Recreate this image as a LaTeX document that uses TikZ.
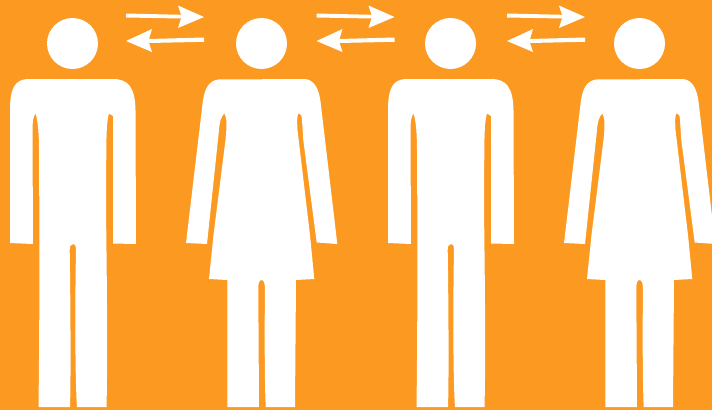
\documentclass[tikz,border=0pt]{standalone}
\definecolor{bgorange}{RGB}{251,153,33}
\tikzset{
  figure/.style={fill=white,draw=none},
  man/.pic={
    \path[figure] (27,79) -- (113,79)
      .. controls (128,79) and (135,87) .. (135.5,110)
      -- (136,244) -- (113,243.5) -- (113,140)
      .. controls (113,128) and (113,116) .. (113,116)
      -- (109,113.5)
      .. controls (107,120) and (106.5,130) .. (106.3,150)
      -- (106,205) .. controls (106.5,260) and (108,350) .. (106.5,407)
      -- (77,407) .. controls (75,380) and (75,300) .. (76,250)
      .. controls (76,246) and (75,244) .. (73.3,244)
      .. controls (71,244) and (69.6,246) .. (69.7,250)
      .. controls (70.5,300) and (71,380) .. (70,407)
      -- (38.5,407) .. controls (39.5,330) and (39.5,250) .. (39.3,205)
      -- (39,150) .. controls (39,135) and (38,120) .. (35.5,113.5)
      .. controls (33,117) and (32.5,122) .. (32.5,130)
      -- (33,244) -- (10,243) -- (10,110)
      .. controls (10,88) and (15,80) .. (27,79) -- cycle;
  },
  woman/.pic={
    \path[figure] (218,79.5) -- (305,79)
      .. controls (314,80) and (319,88) .. (320.7,103)
      -- (337.3,244) -- (316.7,242.5) -- (303.3,140)
      .. controls (302.5,128) and (302,118) .. (301.5,116)
      .. controls (300.5,114) and (299.5,113.5) .. (298.3,113.5)
      .. controls (297,116) and (297,122) .. (297.5,130)
      -- (310,235) -- (314.3,279) -- (296,280) -- (295,407)
      -- (265.7,407) .. controls (264.5,380) and (264.5,320) .. (265,290)
      .. controls (265,284) and (264,280) .. (261.7,280)
      .. controls (259,280) and (258.2,283) .. (258.3,290)
      -- (259,407) -- (227.3,407) -- (227.3,280) -- (209,279)
      -- (213.5,235) -- (225.5,140)
      .. controls (227,125) and (227,118) .. (224.3,113.3)
      .. controls (221,117) and (219.5,122) .. (219,130)
      -- (207,244) -- (186,243) -- (203,100)
      .. controls (205,88) and (209,81) .. (218,79.5) -- cycle;
  },
  rightarrow/.pic={
    \path[figure] (126,13.5) -- (181,14.8) -- (178,5.5) -- (204,17) -- (178,28) -- (181,18.5) -- (126,17.5) -- cycle;
    \path[figure] (204,37.5) -- (149,39) -- (152,29) -- (126,41) -- (152,52) -- (149,43) -- (204,41.8) -- cycle;
  },
}
\begin{document}
\begin{tikzpicture}[x=1pt,y=-1pt]
\useasboundingbox (0,0) rectangle (712,410);
\clip (0,0) rectangle (712,410);
\fill[bgorange] (0,0) rectangle (712,410);
\pic at (0,0) {man};
\pic at (0,0) {woman};
\pic at (378,0) {man};
\pic at (378,0) {woman};
\fill[white] (72.5,43.5) circle (25.5);
\fill[white] (261.5,43.5) circle (25.5);
\fill[white] (450.5,43.5) circle (25.5);
\fill[white] (639.5,43.5) circle (25.5);
\pic at (0,0) {rightarrow};
\pic at (190.5,0) {rightarrow};
\pic at (381,0) {rightarrow};
\end{tikzpicture}
\end{document}
